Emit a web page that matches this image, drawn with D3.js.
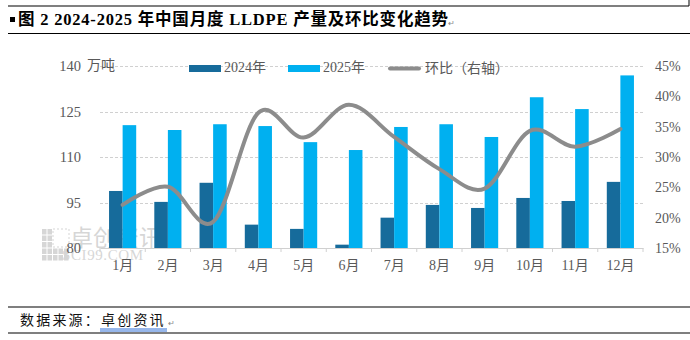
<!DOCTYPE html>
<html>
<head>
<meta charset="utf-8">
<script src="https://d3js.org/d3.v7.min.js"></script>
<style>
  body { margin: 0; background: #fff; }
  svg { display: block; }
</style>
</head>
<body>
<script>

// monthly LLDPE output (10k tons) and month-on-month ratio (%)
var months = ["1月", "2月", "3月", "4月", "5月", "6月", "7月", "8月", "9月", "10月", "11月", "12月"];
var output2024 = [98.8, 95.2, 101.5, 87.7, 86.3, 81.1, 90.0, 94.2, 93.2, 96.5, 95.5, 101.8];
var output2025 = [120.5, 118.9, 120.8, 120.2, 114.9, 112.3, 119.9, 120.8, 116.6, 129.7, 125.8, 136.9];
var momRatio = [22.1, 25.1, 19.3, 37.3, 33.2, 38.6, 33.3, 28.0, 24.8, 34.3, 31.7, 34.6];
var leftTicks = [80, 95, 110, 125, 140];
var rightTicks = [15, 20, 25, 30, 35, 40, 45];
var seriesNames = ["2024年", "2025年"];

var width = 690, height = 340;
var plot = {left: 100, right: 643, top: 66, bottom: 248};
var textFont = "'Liberation Serif', 'Noto Sans CJK SC', serif";
var labelColor = "#595959";
var colors = ["#166B9B", "#00B0F0"];
var lineColor = "#8C8C8C";

var svg = d3.select("body").append("svg").attr("width", width).attr("height", height);

// frame rules around title and source
svg.append("line").attr("x1", 8).attr("x2", 689).attr("y1", 6).attr("y2", 6).attr("stroke", "#000").attr("stroke-width", 1.2);
svg.append("line").attr("x1", 689).attr("x2", 689).attr("y1", 0).attr("y2", 6).attr("stroke", "#000").attr("stroke-width", 1);
svg.append("line").attr("x1", 8).attr("x2", 690).attr("y1", 33.5).attr("y2", 33.5).attr("stroke", "#000").attr("stroke-width", 1.2);
svg.append("line").attr("x1", 8).attr("x2", 690).attr("y1", 307).attr("y2", 307).attr("stroke", "#000").attr("stroke-width", 1.2);
svg.append("line").attr("x1", 8).attr("x2", 690).attr("y1", 333).attr("y2", 333).attr("stroke", "#000").attr("stroke-width", 1.2);

svg.append("rect").attr("x", 10).attr("y", 17).attr("width", 5).attr("height", 5).attr("fill", "#000");
svg.append("text").attr("x", 18).attr("y", 21).attr("dominant-baseline", "middle")
  .attr("font-family", textFont).attr("font-size", 16.5).attr("font-weight", "bold").attr("fill", "#000")
  .attr("textLength", 430).attr("lengthAdjust", "spacing")
  .text("图 2 2024-2025 年中国月度 LLDPE 产量及环比变化趋势");
svg.append("text").attr("x", 448).attr("y", 24).attr("dominant-baseline", "middle")
  .attr("font-size", 8).attr("fill", "#888").text("↵");

var src = svg.append("text").attr("x", 20).attr("y", 321).attr("dominant-baseline", "middle")
  .attr("font-family", "'Noto Sans CJK SC', sans-serif").attr("font-size", 14).attr("letter-spacing", 2.2).attr("fill", "#111");
src.append("tspan").text("数据来源：");
src.append("tspan").text("卓创资讯");
svg.append("line").attr("x1", 100).attr("x2", 167).attr("y1", 329).attr("y2", 329).attr("stroke", "#2F6FD6").attr("stroke-width", 1);
svg.append("line").attr("x1", 100).attr("x2", 167).attr("y1", 331).attr("y2", 331).attr("stroke", "#2F6FD6").attr("stroke-width", 1);
svg.append("text").attr("x", 168).attr("y", 324).attr("dominant-baseline", "middle")
  .attr("font-size", 8).attr("fill", "#888").text("↵");

// scales
var x0 = d3.scaleBand().domain(months).range([plot.left, plot.right]).paddingInner(0.4).paddingOuter(0.2);
var x1 = d3.scaleBand().domain(seriesNames).range([0, x0.bandwidth()]).padding(0);
var yLeft = d3.scaleLinear().domain([80, 140]).range([plot.bottom, plot.top]);
var yRight = d3.scaleLinear().domain([15, 45]).range([plot.bottom, plot.top]);

// watermark, drawn under the bars
var wm = svg.append("g").attr("opacity", 0.3);
for (var i = 0; i < 5; i++) {
  for (var j = 0; j < 5; j++) {
    if (i >= 2 && j < 3) continue;
    wm.append("rect").attr("x", 42 + i * 5.5).attr("y", 229 + j * 6.5).attr("width", 4.5).attr("height", 5.5).attr("fill", "#7a7a7a");
  }
}
wm.append("rect").attr("x", 53).attr("y", 229).attr("width", 16).attr("height", 18).attr("fill", "none").attr("stroke", "#7a7a7a").attr("stroke-dasharray", "2,2");
wm.append("text").attr("x", 70).attr("y", 240).attr("dominant-baseline", "middle")
  .attr("font-family", "'Noto Sans CJK SC', sans-serif").attr("font-size", 23).attr("fill", "#7a7a7a").text("卓创资讯");
wm.append("text").attr("x", 62).attr("y", 257).attr("dominant-baseline", "middle")
  .attr("font-family", "'Liberation Serif', serif").attr("font-size", 15).attr("letter-spacing", 0.6).attr("fill", "#7a7a7a").text("SCI99.COM");

// gridlines
svg.append("g").selectAll("line").data(leftTicks.filter(function(d) { return d > 80; })).enter().append("line")
  .attr("x1", plot.left).attr("x2", plot.right)
  .attr("y1", function(d) { return Math.round(yLeft(d)) + 0.5; })
  .attr("y2", function(d) { return Math.round(yLeft(d)) + 0.5; })
  .attr("stroke", "#D0D0D0").attr("stroke-dasharray", "3,2").attr("stroke-width", 1);

// bars
var groups = svg.append("g").selectAll("g").data(months).enter().append("g")
  .attr("transform", function(d) { return "translate(" + x0(d) + ",0)"; });
groups.selectAll("rect").data(function(d, i) {
    return [{k: seriesNames[0], v: output2024[i]}, {k: seriesNames[1], v: output2025[i]}];
  }).enter().append("rect")
  .attr("x", function(d) { return x1(d.k); })
  .attr("y", function(d) { return yLeft(d.v); })
  .attr("width", x1.bandwidth())
  .attr("height", function(d) { return plot.bottom - yLeft(d.v); })
  .attr("fill", function(d, i) { return colors[i]; });

// ratio line on right axis
var line = d3.line()
  .x(function(d, i) { return x0(months[i]) + x0.bandwidth() / 2; })
  .y(function(d) { return yRight(d); })
  .curve(d3.curveCatmullRom.alpha(0));
svg.append("path").datum(momRatio).attr("d", line)
  .attr("fill", "none").attr("stroke", lineColor).attr("stroke-width", 4).attr("stroke-linecap", "round");

// bottom axis
var xAxis = d3.axisBottom(x0).tickSize(0).tickPadding(12);
var gx = svg.append("g").attr("transform", "translate(0," + plot.bottom + ")").call(xAxis);
gx.select(".domain").attr("stroke", "#D0D0D0");
gx.selectAll("text").attr("font-family", textFont).attr("font-size", 14).attr("fill", labelColor);
gx.selectAll(".sep").data(d3.range(months.length + 1)).enter().append("line").attr("class", "sep")
  .attr("x1", function(d) { return plot.left + d * x0.step(); })
  .attr("x2", function(d) { return plot.left + d * x0.step(); })
  .attr("y1", 0).attr("y2", 4).attr("stroke", "#D0D0D0");

// left axis
var yAxisL = d3.axisLeft(yLeft).tickValues(leftTicks).tickSize(0).tickPadding(19);
var gl = svg.append("g").attr("transform", "translate(" + plot.left + ",0)").call(yAxisL);
gl.select(".domain").remove();
gl.selectAll("text").attr("font-family", textFont).attr("font-size", 14.5).attr("fill", labelColor);

// right axis
var yAxisR = d3.axisRight(yRight).tickValues(rightTicks).tickSize(0).tickPadding(12)
  .tickFormat(function(d) { return d + "%"; });
var gr = svg.append("g").attr("transform", "translate(" + plot.right + ",0)").call(yAxisR);
gr.select(".domain").remove();
gr.selectAll("text").attr("font-family", textFont).attr("font-size", 14).attr("fill", labelColor);

svg.append("text").attr("x", 87).attr("y", 66).attr("dominant-baseline", "middle")
  .attr("font-family", "'Noto Sans CJK SC', sans-serif").attr("font-size", 14).attr("fill", labelColor).text("万吨");

// legend
var legend = svg.append("g").attr("font-family", textFont).attr("font-size", 14).attr("fill", labelColor);
var legendX = [189, 288];
seriesNames.forEach(function(name, i) {
  legend.append("rect").attr("x", legendX[i]).attr("y", 65).attr("width", 32).attr("height", 7).attr("fill", colors[i]);
  legend.append("text").attr("x", legendX[i] + 35).attr("y", 69).attr("dominant-baseline", "middle").text(name);
});
legend.append("line").attr("x1", 390).attr("x2", 419).attr("y1", 68.5).attr("y2", 68.5)
  .attr("stroke", lineColor).attr("stroke-width", 4).attr("stroke-linecap", "round");
legend.append("text").attr("x", 425).attr("y", 69).attr("dominant-baseline", "middle")
  .attr("font-family", "'Noto Sans CJK SC', sans-serif").text("环比（右轴）");

</script>
</body>
</html>
